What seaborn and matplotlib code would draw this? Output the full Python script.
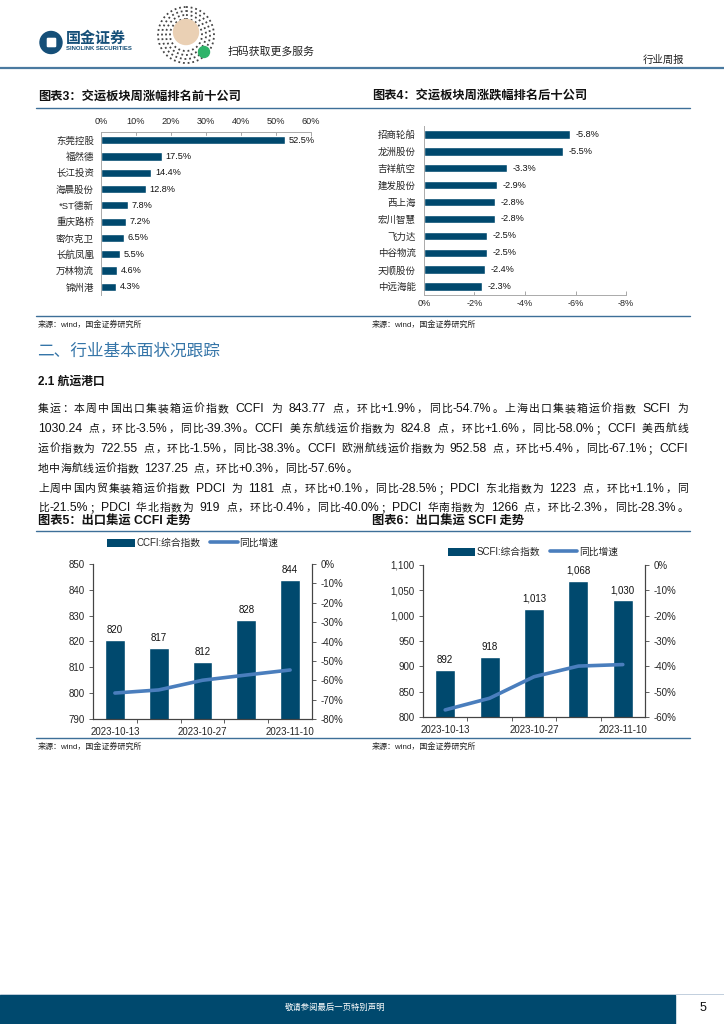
import re
import numpy as np
import pandas as pd
import matplotlib
matplotlib.use("Agg")
import matplotlib.pyplot as plt
import seaborn as sns
from matplotlib.patches import Rectangle, Circle, Patch, FancyBboxPatch
from matplotlib.lines import Line2D
from matplotlib.ticker import FuncFormatter, FixedLocator

sns.set_theme(style="white")
plt.rcParams["font.family"] = ["Liberation Sans", "Noto Sans CJK SC"]
plt.rcParams["axes.unicode_minus"] = False

# ---------------- data ----------------
top_names = ["东莞控股", "福然德", "长江投资", "海晨股份", "*ST德新",
             "重庆路桥", "密尔克卫", "长航凤凰", "万林物流", "锦州港"]
top_pct = [52.5, 17.5, 14.4, 12.8, 7.8, 7.2, 6.5, 5.5, 4.6, 4.3]
bot_names = ["招商轮船", "龙洲股份", "吉祥航空", "建发股份", "西上海",
             "宏川智慧", "飞力达", "中谷物流", "天顺股份", "中远海能"]
bot_pct = [-5.8, -5.5, -3.3, -2.9, -2.8, -2.8, -2.5, -2.5, -2.4, -2.3]
weeks = ["2023-10-13", "2023-10-20", "2023-10-27", "2023-11-03", "2023-11-10"]
week_labels = ["2023-10-13", "", "2023-10-27", "", "2023-11-10"]
ccfi = [820.4, 817.4, 811.9, 828.2, 843.8]
ccfi_yoy = [-66.6, -65.0, -60.0, -57.3, -54.7]
scfi = [892.0, 917.7, 1013.0, 1067.9, 1030.2]
scfi_yoy = [-57.2, -52.6, -44.1, -39.9, -39.3]
top_ticks = [0, 10, 20, 30, 40, 50, 60]
bot_ticks = [0, -2, -4, -6, -8]
ccfi_ticks = [790, 800, 810, 820, 830, 840, 850]
ccfi_yoy_ticks = [-80, -70, -60, -50, -40, -30, -20, -10, 0]
scfi_ticks = [800, 850, 900, 950, 1000, 1050, 1100]
scfi_yoy_ticks = [-60, -50, -40, -30, -20, -10, 0]

para_lines = [
    "集运：本周中国出口集装箱运价指数 CCFI 为 843.77 点，环比+1.9%，同比-54.7%。上海出口集装箱运价指数 SCFI 为",
    "1030.24 点，环比-3.5%，同比-39.3%。CCFI 美东航线运价指数为 824.8 点，环比+1.6%，同比-58.0%；CCFI 美西航线",
    "运价指数为 722.55 点，环比-1.5%，同比-38.3%。CCFI 欧洲航线运价指数为 952.58 点，环比+5.4%，同比-67.1%；CCFI",
    "地中海航线运价指数 1237.25 点，环比+0.3%，同比-57.6%。",
    "上周中国内贸集装箱运价指数 PDCI 为 1181 点，环比+0.1%，同比-28.5%；PDCI 东北指数为 1223 点，环比+1.1%，同",
    "比-21.5%；PDCI 华北指数为 919 点，环比-0.4%，同比-40.0%；PDCI 华南指数为 1266 点，环比-2.3%，同比-28.3%。",
]
para_justify = [True, True, True, False, True, True]
para_y = [409, 429, 449, 469, 489, 508]

NAVY = "#00496e"
LINE = "#4a7ebd"
RULE = "#3d6f98"
W, H = 724, 1024

fig = plt.figure(figsize=(W / 100, H / 100), dpi=100)
bg = fig.add_axes([0, 0, 1, 1])
bg.set_xlim(0, W)
bg.set_ylim(H, 0)
bg.axis("off")


def rect(x0, y0, x1, y1):
    return [x0 / W, 1 - y1 / H, (x1 - x0) / W, (y1 - y0) / H]


def hline(y, x0, x1, color=RULE, lw=1.0):
    bg.add_line(Line2D([x0, x1], [y, y], color=color, lw=lw))


# ---------------- header ----------------
bg.add_patch(Circle((51, 42.5), 11, color="#154f78"))
bg.add_patch(FancyBboxPatch((48, 39), 7, 7, boxstyle="round,pad=0.6", color="white"))
bg.text(66, 39, "国金证券", fontsize=10.8, fontweight="bold", color="#154f78", va="center")
bg.text(65.5, 48.5, "SINOLINK SECURITIES", fontsize=4.3, fontweight="bold", color="#154f78", va="center")
# QR-like badge
bg.add_patch(Circle((186, 35), 29, facecolor="white", edgecolor="none"))
for r in (28, 24, 20, 16):
    bg.add_patch(Circle((186, 35), r, fill=False, edgecolor="#444444", lw=1.3, linestyle=(0, (1, 1.6))))
bg.add_patch(Circle((186, 32), 12.5, color="#ead0b4"))
bg.add_patch(Circle((204, 52), 5.5, color="#2fb36a"))
bg.text(228, 52, "扫码获取更多服务", fontsize=7.8, color="#222222", va="center")
bg.text(643, 60, "行业周报", fontsize=7.5, color="#222222", va="center")
hline(68, 0, W, color="#4a7aa0", lw=1.6)

# ---------------- section rules / titles ----------------
TS = 8.8
bg.text(38, 97, "图表3：交运板块周涨幅排名前十公司", fontsize=TS, fontweight="bold", va="center", color="#111111")
bg.text(372, 97, "图表4：交运板块周涨跌幅排名后十公司", fontsize=TS, fontweight="bold", va="center", color="#111111")
hline(108, 36, 690)
hline(316, 36, 690)
src = "来源：wind，国金证券研究所"
bg.text(38, 325, src, fontsize=5.8, va="center", color="#222222")
bg.text(372, 325, src, fontsize=5.8, va="center", color="#222222")
bg.text(37, 351, "二、行业基本面状况跟踪", fontsize=12, va="center", color="#3575a8")
bg.text(38, 382, "2.1 航运港口", fontsize=8.5, fontweight="bold", va="center", color="#111111")

bg.text(38, 522, "图表5：出口集运 CCFI 走势", fontsize=TS, fontweight="bold", va="center", color="#111111")
bg.text(372, 522, "图表6：出口集运 SCFI 走势", fontsize=TS, fontweight="bold", va="center", color="#111111")
hline(531, 36, 690)
hline(738, 36, 690)
bg.text(38, 747, src, fontsize=5.8, va="center", color="#222222")
bg.text(372, 747, src, fontsize=5.8, va="center", color="#222222")

# ---------------- footer ----------------
hline(993.5, 0, W, color="#b8c8d8", lw=0.6)
bg.add_patch(Rectangle((0, 995), 675, 29, color=NAVY))
bg.text(335, 1008, "敬请参阅最后一页特别声明", fontsize=6, color="white", ha="center", va="center")
bg.text(703, 1008, "5", fontsize=9, color="#111111", ha="center", va="center")

# ---------------- body text (justified) ----------------
renderer = fig.canvas.get_renderer()
BODY_SIZE = 7.8
LATIN_SIZE = 8.8
em = BODY_SIZE * 100 / 72
_wcache = {}


def tok_width(tok):
    if tok == " ":
        return 0.42 * em
    if ord(tok[0]) > 127:
        return em
    if tok not in _wcache:
        t = bg.text(0, 0, tok, fontsize=LATIN_SIZE)
        _wcache[tok] = t.get_window_extent(renderer).width
        t.remove()
    return _wcache[tok]


def draw_line(text, y, x0=38, x1=688, justify=True):
    toks = re.findall(r"[A-Za-z0-9.%+\-*]+| |.", text)
    widths = [tok_width(t) for t in toks]
    gap = 0.4
    if justify and len(toks) > 1:
        gap = ((x1 - x0) - sum(widths)) / (len(toks) - 1)
    x = x0
    for t, w in zip(toks, widths):
        if t != " ":
            size = BODY_SIZE if ord(t[0]) > 127 else LATIN_SIZE
            bg.text(x, y, t, fontsize=size, va="center", ha="left", color="#111111")
        x += w + gap


for line, yy, j in zip(para_lines, para_y, para_justify):
    draw_line(line, yy, justify=j)

# ---------------- chart 3 ----------------
ax3 = fig.add_axes(rect(101, 132, 311, 295))
df3 = pd.DataFrame({"name": top_names, "pct": top_pct})
sns.barplot(data=df3, x="pct", y="name", orient="h", color=NAVY, saturation=1, width=0.5, ax=ax3)
ax3.set_xlim(0, 60)
ax3.set_ylim(9.5, -0.5)
ax3.xaxis.tick_top()
ax3.set_xticks(top_ticks)
ax3.set_xticklabels([f"{v}%" for v in top_ticks])
ax3.tick_params(axis="x", top=True, direction="in", length=3, width=0.6, color="#999999",
                labelsize=6.6, pad=4)
ax3.tick_params(axis="y", length=0, labelsize=6.8, pad=5)
for s in ("right", "bottom"):
    ax3.spines[s].set_visible(False)
for s in ("left", "top"):
    ax3.spines[s].set_color("#aaaaaa")
    ax3.spines[s].set_linewidth(0.7)
ax3.set_xlabel("")
ax3.set_ylabel("")
for i, v in enumerate(top_pct):
    ax3.text(v + 1.0, i, f"{v}%", va="center", ha="left", fontsize=6.6, color="#111111")

# ---------------- chart 4 ----------------
ax4 = fig.add_axes(rect(424, 126, 626, 295))
df4 = pd.DataFrame({"name": bot_names, "pct": bot_pct})
sns.barplot(data=df4, x="pct", y="name", orient="h", color=NAVY, saturation=1, width=0.5, ax=ax4)
ax4.set_xlim(0, -8)
ax4.set_ylim(9.5, -0.5)
ax4.set_xticks(bot_ticks)
ax4.set_xticklabels([f"{v}%" for v in bot_ticks])
ax4.tick_params(axis="x", bottom=True, direction="in", length=3, width=0.6, color="#999999",
                labelsize=6.6, pad=3)
ax4.tick_params(axis="y", length=0, labelsize=6.8, pad=6)
for s in ("right", "top"):
    ax4.spines[s].set_visible(False)
for s in ("left", "bottom"):
    ax4.spines[s].set_color("#aaaaaa")
    ax4.spines[s].set_linewidth(0.7)
ax4.set_xlabel("")
ax4.set_ylabel("")
for i, v in enumerate(bot_pct):
    ax4.text(v - 0.22, i, f"{v}%", va="center", ha="left", fontsize=6.6, color="#111111")


# ---------------- charts 5 & 6 ----------------
def combo(box, vals, yoy, name, yt, yt2, fmt, legend_xy):
    ax = fig.add_axes(rect(*box))
    df = pd.DataFrame({"week": weeks, "v": vals})
    sns.barplot(data=df, x="week", y="v", color=NAVY, saturation=1, width=0.45, ax=ax)
    ax.set_ylim(yt[0], yt[-1])
    ax.set_yticks(yt)
    ax.yaxis.set_major_formatter(FuncFormatter(lambda v, p: fmt(v)))
    ax2 = ax.twinx()
    sns.lineplot(x=np.arange(len(yoy)), y=yoy, ax=ax2, color=LINE, lw=2.6)
    ax2.set_ylim(yt2[0], yt2[-1])
    ax2.set_yticks(yt2)
    ax2.set_yticklabels([f"{v}%" for v in yt2])
    ax.set_xlim(-0.5, len(vals) - 0.5)
    ax.set_xticks(range(len(vals)))
    ax.set_xticklabels(week_labels)
    ax.xaxis.set_minor_locator(FixedLocator([0.5, 1.5, 2.5, 3.5]))
    for a in (ax, ax2):
        a.grid(False)
        a.set_xlabel("")
        a.set_ylabel("")
        a.spines["top"].set_visible(False)
        for s in ("left", "right", "bottom"):
            a.spines[s].set_color("#444444")
            a.spines[s].set_linewidth(0.8)
    ax.tick_params(axis="x", which="major", length=0, labelsize=7, pad=6)
    ax.tick_params(axis="x", which="minor", bottom=True, length=3, width=0.6, color="#444444")
    ax.tick_params(axis="y", left=True, length=3, width=0.6, color="#444444", labelsize=7, pad=3)
    ax2.tick_params(axis="y", right=True, length=3, width=0.6, color="#444444", labelsize=7, pad=3)
    for i, v in enumerate(vals):
        ax.text(i, v + (yt[-1] - yt[0]) * 0.035, fmt(v), ha="center", va="bottom", fontsize=7, color="#111111")
    handles = [Patch(facecolor=NAVY, edgecolor="none"), Line2D([0], [0], color=LINE, lw=2.6)]
    fig.legend(handles, [f"{name}:综合指数", "同比增速"], loc="center",
               bbox_to_anchor=(legend_xy[0] / W, 1 - legend_xy[1] / H), ncol=2, frameon=False,
               fontsize=7, handlelength=2.8, handleheight=0.9, columnspacing=1.0, handletextpad=0.2)
    return ax, ax2


combo((93, 564, 312, 719), ccfi, ccfi_yoy, "CCFI", ccfi_ticks, ccfi_yoy_ticks,
      lambda v: f"{v:,.0f}", (193, 543))
combo((423, 565, 645, 717), scfi, scfi_yoy, "SCFI", scfi_ticks, scfi_yoy_ticks,
      lambda v: f"{v:,.0f}", (533, 552))

fig.savefig("out.png", dpi=100)
